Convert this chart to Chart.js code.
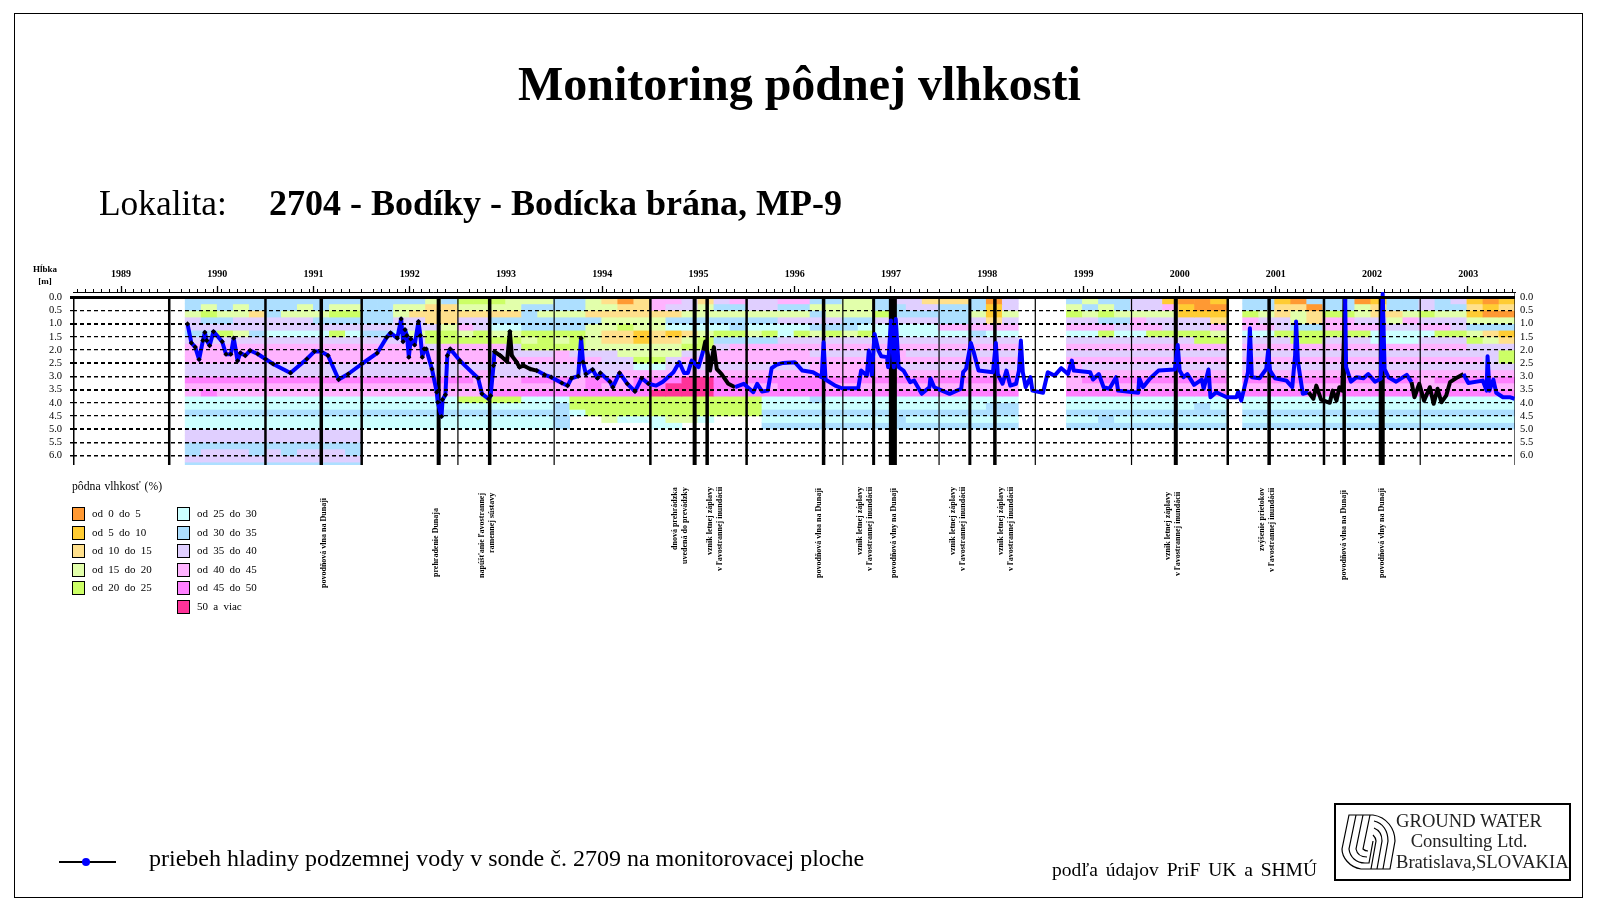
<!DOCTYPE html>
<html>
<head>
<meta charset="utf-8">
<title>Monitoring pôdnej vlhkosti</title>
<script src="https://cdn.jsdelivr.net/npm/chart.js@4/dist/chart.umd.min.js"></script>
<style>
  body { margin: 0; background: #fff; font-family: "Liberation Serif", serif; color: #000; }
  #page { position: relative; width: 1602px; height: 914px; overflow: hidden; }
  #chart { position: absolute; left: 0; top: 0; }
  #frame { position: absolute; left: 14px; top: 13px; width: 1567px; height: 883px; border: 1px solid #000; }
  .txt { position: absolute; white-space: pre; line-height: 1; }
  .swatch { position: absolute; width: 11px; height: 12px; border: 1.5px solid #000; }
  .note { position: absolute; height: 92px; writing-mode: vertical-rl; transform: rotate(180deg);
    text-align: right; font-size: 8px; font-weight: bold; line-height: 10px; white-space: pre; }
  #logo { position: absolute; left: 1334px; top: 803px; width: 233px; height: 74px; border: 2px solid #000; }
  #logo .txt { font-size: 18.6px; color: #222; }
</style>
</head>
<body>
<div id="page">
  <canvas id="chart" width="1602" height="914"></canvas>
  <div id="frame"></div>
  <div class="txt" style="left:518px;top:60px;font-size:48px;font-weight:bold">Monitoring pôdnej vlhkosti</div>
  <div class="txt" style="left:99px;top:186px;font-size:35.4px">Lokalita:</div>
  <div class="txt" style="left:269px;top:185px;font-size:36px;font-weight:bold">2704 - Bodíky - Bodícka brána, MP-9</div>
  <div class="txt" style="left:32px;top:263px;width:26px;text-align:center;font-size:9px;font-weight:bold;line-height:12px">Hĺbka
[m]</div>
  <div class="txt" style="left:72px;top:481px;font-size:11.7px;word-spacing:1px">pôdna vlhkosť (%)</div>
  <div id="legend"></div>
  <div id="notes"></div>
  <div style="position:absolute;left:59px;top:861px;width:57px;height:2px;background:#000"></div>
  <div style="position:absolute;left:82px;top:858px;width:8px;height:8px;border-radius:50%;background:#0000ff"></div>
  <div class="txt" style="left:149px;top:846px;font-size:24px">priebeh hladiny podzemnej vody v sonde č. 2709 na monitorovacej ploche</div>
  <div class="txt" style="left:1052px;top:860px;font-size:19.5px;word-spacing:3px">podľa údajov PriF UK a SHMÚ</div>
  <div id="logo">
    <svg style="position:absolute;left:5px;top:8px" width="56" height="58" viewBox="0 0 56 58" fill="none" stroke="#000" stroke-width="1.2">
      <path d="M8 2 H32 C46 4 54 16 54 28 L49 56 H20 C8 54 1 44 1 36 Z"/>
      <path d="M15 2 L8 36 C9 44 15 50 24 50 L28 50 L32 28"/>
      <path d="M22 2 L15 36 C16 41 20 44 26 44"/>
      <path d="M29 2 L22 36 C24 38 26 38 27 38"/>
      <path d="M33 8 C42 10 47 18 47 28 L42 56"/>
      <path d="M33 15 C38 17 41 22 41 28 L36 56"/>
      <path d="M32 22 C34 24 35 26 35 28 L30 56"/>
    </svg>
    <div class="txt" style="left:58px;width:150px;top:7px;text-align:center">GROUND WATER</div>
    <div class="txt" style="left:58px;width:150px;top:27px;text-align:center">Consulting Ltd.</div>
    <div class="txt" style="left:60px;top:48px">Bratislava,SLOVAKIA</div>
  </div>
</div>
<script>
// moisture classes, same order as the legend
const classLabels = ["od 0 do 5", "od 5 do 10", "od 10 do 15", "od 15 do 20", "od 20 do 25", "od 25 do 30",
  "od 30 do 35", "od 35 do 40", "od 40 do 45", "od 45 do 50", "50 a viac"];
const classColors = ["#ff9933", "#ffcc33", "#ffe08c", "#e2ffab", "#ccff66", "#ccffff",
  "#addfff", "#e0cfff", "#ffb3ff", "#ff80ff", "#ff3399"];

// one string per 0.25 m of depth, one group per year 1989-2003, six readings a year
// digit / A = moisture class, . = not measured
const moistureRows = [
  "...... .66666 666666 666636 444333 663202 887278 778866 336772 22607. ..6366 771001 .66106 660166 767101",
  "...... .63636 663633 663322 333366 663322 877366 776633 336677 66617. ..3636 778100 .66220 663266 766212",
  "...... .34332 633344 663222 222263 332222 223333 333363 334666 66313. ..4343 333111 .43232 443223 433100",
  "...... .76677 777666 667722 776666 666333 366666 667777 667777 66727. ..7766 877772 .87732 887738 777333",
  "...... .77777 777777 777773 875566 663343 355556 555566 655555 88888. ..8887 887778 .88766 888877 887666",
  "...... .66436 555545 665344 343344 443221 212344 345434 345555 55655. ..5545 544443 .55444 444555 544321",
  "...... .77777 777777 777744 444434 343221 223466 667777 777777 77777. ..7777 777744 .77744 777555 777432",
  "...... .88888 888888 888878 888744 443333 334478 888888 888888 88888. ..8888 888888 .88888 888888 888777",
  "...... .88888 888888 888888 887777 877733 337788 888877 777877 77777. ..7777 777777 .77777 777777 777774",
  "...... .88888 888888 888888 888888 888774 478888 888888 888888 88888. ..8888 888888 .88888 888888 888874",
  "...... .77777 777777 777777 777777 777775 577777 777788 888777 77777. ..8777 777777 .77777 777777 777777",
  "...... .77777 777777 777777 887777 777788 888888 888888 888888 88888. ..8888 888888 .88888 888888 888888",
  "...... .99999 999999 999999 988899 989989 99AA99 999999 999999 99999. ..8999 999999 .99999 999999 899999",
  "...... .88888 888888 888888 888888 889889 9AAA99 889998 888888 88888. ..8888 888888 .88888 888888 888888",
  "...... .89888 888888 888888 889999 999999 AAAA99 999999 999999 99999. ..9999 999999 .99999 999999 999999",
  "...... .55555 555555 555555 444455 544444 444444 455565 555555 55555. ..5555 555555 .55555 555555 555555",
  "...... .55555 555555 555555 555555 644444 444444 455555 555555 55566. ..5555 555565 .55555 555555 555555",
  "...... .66666 666666 666666 666666 654444 444444 466666 666666 66666. ..6666 666666 .66666 666666 666666",
  "...... .55555 555555 555555 555555 6..355 5335.. .55555 555655 55555. ..5565 555555 .55555 555555 555555",
  "...... .55555 555555 555555 555555 6..... 55.... .66666 666666 66666. ..6666 666666 .66666 666666 666666",
  "...... .77777 777777 ...... ...... ...... ...... ...... ...... ...... ...... ...... ...... ...... ......",
  "...... .77777 777777 ...... ...... ...... ...... ...... ...... ...... ...... ...... ...... ...... ......",
  "...... .66666 666666 ...... ...... ...... ...... ...... ...... ...... ...... ...... ...... ...... ......",
  "...... .67776 767776 ...... ...... ...... ...... ...... ...... ...... ...... ...... ...... ...... ......",
  "...... .77777 777777 ...... ...... ...... ...... ...... ...... ...... ...... ...... ...... ...... ......",
  "...... .66666 666666 ...... ...... ...... ...... ...... ...... ...... ...... ...... ...... ...... ......",
];

// water level in the probe: year and depth (m)
const levelYears = [
  1990.19, 1990.23, 1990.27, 1990.31, 1990.35, 1990.37, 1990.39, 1990.42, 1990.46, 1990.55, 1990.59, 1990.64, 1990.67, 1990.71, 1990.74, 1990.79, 1990.84, 1990.92,
  1991.00, 1991.08, 1991.26, 1991.43, 1991.51, 1991.58, 1991.65, 1991.76, 1991.86,
  1992.00, 1992.16, 1992.26, 1992.30, 1992.37, 1992.41, 1992.43, 1992.45, 1992.47, 1992.49, 1992.51, 1992.55, 1992.59, 1992.61, 1992.63, 1992.65, 1992.67, 1992.73, 1992.78, 1992.79, 1992.83, 1992.84, 1992.87, 1992.89, 1992.92,
  1993.02, 1993.21, 1993.25, 1993.32, 1993.34, 1993.37, 1993.38, 1993.44, 1993.51, 1993.54, 1993.56, 1993.61, 1993.64, 1993.68, 1993.75, 1993.82, 1993.90, 1993.97,
  1994.08, 1994.14, 1994.18, 1994.25, 1994.28, 1994.30, 1994.33, 1994.40, 1994.45, 1994.48, 1994.58, 1994.61, 1994.68, 1994.76, 1994.84, 1994.91, 1994.98,
  1995.06, 1995.13, 1995.24, 1995.30, 1995.35, 1995.39, 1995.43, 1995.50, 1995.55, 1995.57, 1995.60, 1995.62, 1995.66, 1995.69, 1995.74, 1995.81, 1995.88, 1995.97,
  1996.07, 1996.11, 1996.16, 1996.22, 1996.26, 1996.31, 1996.38, 1996.50, 1996.58, 1996.69, 1996.78, 1996.80, 1996.82, 1996.92, 1996.99,
  1997.16, 1997.19, 1997.25, 1997.27, 1997.30, 1997.33, 1997.37, 1997.40, 1997.46, 1997.47, 1997.50, 1997.53, 1997.55, 1997.58, 1997.63, 1997.70, 1997.74, 1997.82, 1997.90, 1997.91, 1997.95,
  1998.03, 1998.11, 1998.23, 1998.25, 1998.28, 1998.33, 1998.36, 1998.41, 1998.56, 1998.59, 1998.61, 1998.66, 1998.70, 1998.74, 1998.80, 1998.83, 1998.85, 1998.87, 1998.90, 1998.95, 1998.97,
  1999.08, 1999.13, 1999.20, 1999.27, 1999.34, 1999.38, 1999.40, 1999.57, 1999.60, 1999.66, 1999.71, 1999.77, 1999.84, 1999.86,
  2000.07, 2000.08, 2000.12, 2000.19, 2000.28, 2000.45, 2000.48, 2000.50, 2000.54, 2000.58, 2000.65, 2000.73, 2000.75, 2000.80, 2000.82, 2000.88, 2000.99,
  2001.09, 2001.11, 2001.14, 2001.19, 2001.21, 2001.23, 2001.25, 2001.33, 2001.40, 2001.42, 2001.44, 2001.49, 2001.61, 2001.67, 2001.70, 2001.71, 2001.73, 2001.78, 2001.84, 2001.89, 2001.92, 2001.97,
  2002.06, 2002.09, 2002.13, 2002.16, 2002.19, 2002.22, 2002.23, 2002.28, 2002.34, 2002.41, 2002.46, 2002.53, 2002.59, 2002.61, 2002.63, 2002.67, 2002.75, 2002.86, 2002.91, 2002.94, 2002.99,
  2003.04, 2003.10, 2003.14, 2003.18, 2003.22, 2003.27, 2003.31, 2003.39, 2003.45, 2003.50, 2003.65, 2003.69, 2003.70, 2003.72, 2003.76, 2003.79, 2003.86, 2003.93, 2003.98,
];
const levelDepths = [
  1.01, 1.73, 1.89, 2.36, 1.64, 1.33, 1.64, 1.83, 1.30, 1.68, 2.16, 2.16, 1.55, 2.41, 2.11, 2.21, 2.02, 2.15,
  2.34, 2.53, 2.87, 2.34, 2.05, 2.06, 2.21, 3.12, 2.91,
  2.53, 2.12, 1.52, 1.35, 1.55, 0.82, 1.68, 1.23, 1.45, 2.27, 1.58, 1.81, 0.92, 1.45, 2.27, 1.96, 1.96, 2.72, 3.60, 3.98, 4.52, 3.88, 3.70, 2.21, 1.96,
  2.40, 3.07, 3.66, 3.85, 3.73, 2.59, 2.06, 2.21, 2.44, 1.30, 2.21, 2.46, 2.65, 2.59, 2.72, 2.78, 2.94, 3.03,
  3.25, 3.35, 3.07, 2.99, 1.55, 2.46, 2.91, 2.74, 3.07, 2.87, 3.20, 3.41, 2.87, 3.28, 3.57, 3.07, 3.28,
  3.35, 3.20, 2.84, 2.46, 2.87, 2.87, 2.40, 2.65, 2.02, 1.68, 2.21, 2.78, 1.89, 2.72, 2.91, 3.28, 3.41, 3.28,
  3.60, 3.28, 3.57, 3.54, 2.69, 2.56, 2.49, 2.46, 2.78, 2.84, 3.03, 1.71, 3.12, 3.35, 3.45,
  3.45, 2.78, 2.97, 2.02, 2.97, 1.39, 2.02, 2.24, 2.27, 2.65, 0.88, 2.65, 0.82, 2.65, 2.78, 3.22, 3.16, 3.66, 3.41, 3.07, 3.41,
  3.54, 3.66, 3.47, 2.84, 2.72, 1.73, 2.08, 2.78, 2.84, 1.73, 2.91, 3.28, 2.78, 3.35, 3.28, 2.78, 1.64, 2.84, 3.41, 3.03, 3.54,
  3.62, 2.84, 2.97, 2.69, 2.91, 2.40, 2.78, 2.84, 3.12, 2.91, 3.41, 3.47, 3.03, 3.54,
  3.62, 3.07, 3.41, 3.09, 2.78, 2.74, 1.81, 2.78, 3.03, 2.91, 3.32, 3.12, 3.47, 2.74, 3.79, 3.60, 3.79,
  3.79, 3.57, 3.92, 3.16, 2.84, 1.17, 3.03, 3.07, 2.72, 2.02, 2.78, 3.07, 3.16, 3.41, 2.21, 0.92, 2.46, 3.66, 3.60, 3.85, 3.35, 3.88,
  4.00, 3.54, 3.92, 3.41, 3.54, 0.06, 2.65, 3.20, 3.03, 3.07, 2.91, 3.20, 3.09, -0.13, 2.72, 3.03, 3.20, 2.94, 3.22, 3.79, 3.28,
  3.92, 3.41, 4.04, 3.47, 3.98, 3.73, 3.22, 3.03, 2.91, 3.25, 3.16, 3.54, 2.24, 3.54, 3.12, 3.62, 3.79, 3.79, 3.85,
];
// stretches of the record that show as black in the original
const blackSpans = [[1993.38, 1993.82], [1995.55, 1995.88], [2001.80, 2002.20], [2002.90, 2003.42]];
// up to this year the single readings show as black squares on the line
const markersUntil = 1995;

const yearTicks = [1989, 1990, 1991, 1992, 1993, 1994, 1995, 1996, 1997, 1998, 1999, 2000, 2001, 2002, 2003];
const yearLineWidths = [3, 2.5, 2.5, 2.5, 1.2, 1.2, 2.5, 2.5, 1.2, 1.2, 1.2, 1.2, 2.5, 2.5, 1.2];
const eventYears = [1991.58, 1992.80, 1993.33, 1995.46, 1995.59, 1996.80, 1997.32, 1997.52, 1998.32, 1998.58, 2000.46, 2001.43, 2002.21, 2002.60];
const eventWidths = [3.5, 4, 3.5, 4, 3.5, 3.5, 3, 8, 3, 3.5, 4, 3.5, 3.5, 6];
const depthTicks = [0, 0.5, 1, 1.5, 2, 2.5, 3, 3.5, 4, 4.5, 5, 5.5, 6];
const depthLineWidths = [3, 1.2, 2, 1.2, 1.2, 2, 1.5, 2, 1.2, 1.2, 2, 1.5, 1.5];

// text under the event lines: box position and its lines
const noteLefts = [319, 431, 477, 670, 705, 814, 855, 889, 948, 996, 1163, 1257, 1339, 1377];
const noteTops = [498, 508, 493, 487, 487, 488, 487, 488, 487, 487, 492, 488, 490, 488];
const noteTexts = [
  "povodňová vlna na Dunaji",
  "prehradenie Dunaja",
  "napúšťanie ľavostrannej\nramennej sústavy",
  "dnová prehrádzka\nuvedená do prevádzky",
  "vznik letnej záplavy\nv ľavostrannej inundácii",
  "povodňová vlna na Dunaji",
  "vznik letnej záplavy\nv ľavostrannej inundácii",
  "povodňová vlny na Dunaji",
  "vznik letnej záplavy\nv ľavostrannej inundácii",
  "vznik letnej záplavy\nv ľavostrannej inundácii",
  "vznik letnej záplavy\nv ľavostrannej inundácii",
  "zvýšenie prietokov\nv ľavostrannej inundácii",
  "povodňová vlna na Dunaji",
  "povodňová vlny na Dunaji",
];

const rowStep = 0.25;
const xMax = 2003.985;
const yMin = -0.2;
const yMax = 6.36;
const serif = "'Liberation Serif', serif";

function buildLegend() {
  const box = document.getElementById("legend");
  const rowTops = [507, 526, 544, 563, 581, 600];
  let html = "";
  classLabels.forEach((label, i) => {
    const second = i >= 5;
    const top = rowTops[second ? i - 5 : i];
    html += `<div class="swatch" style="left:${second ? 177 : 72}px;top:${top}px;background:${classColors[i]}"></div>`;
    html += `<div class="txt" style="left:${second ? 197 : 92}px;top:${top + 1}px;font-size:11px;word-spacing:2.5px">${label}</div>`;
  });
  box.innerHTML = html;
}

function buildNotes() {
  const box = document.getElementById("notes");
  let html = "";
  noteTexts.forEach((text, i) => {
    html += `<div class="note" style="left:${noteLefts[i]}px;top:${noteTops[i]}px">${text}</div>`;
  });
  box.innerHTML = html;
}

function classColor(ch) {
  if (ch === ".") return "rgba(0,0,0,0)";
  if (ch === "A") return classColors[10];
  return classColors[Number(ch)];
}

function moistureDatasets() {
  return moistureRows.map((row) => {
    const cells = row.replace(/ /g, "").split("");
    return {
      type: "bar",
      stack: "moisture",
      order: 5,
      xAxisID: "xCells",
      yAxisID: "y",
      data: cells.map(() => rowStep),
      backgroundColor: cells.map(classColor),
      borderWidth: 0,
      grouped: false,
      barPercentage: 1,
      categoryPercentage: 1,
    };
  });
}

function verticalLine(year, width, top) {
  return {
    type: "line",
    order: 2,
    xAxisID: "x",
    yAxisID: "y",
    data: [{ x: year, y: top }, { x: year, y: yMax }],
    borderColor: "#000",
    borderWidth: width,
    pointRadius: 0,
  };
}

function isBlack(year) {
  return blackSpans.some((s) => year >= s[0] && year < s[1]);
}

function levelPoints() {
  return levelYears.map((x, i) => ({ x: x, y: levelDepths[i] }));
}

function levelDataset() {
  return {
    type: "line",
    order: 1,
    xAxisID: "x",
    yAxisID: "y",
    data: levelPoints(),
    borderColor: "#0000ff",
    borderWidth: 4,
    borderJoinStyle: "round",
    tension: 0,
    segment: { borderColor: (ctx) => (isBlack(ctx.p0.parsed.x) ? "#000" : "#0000ff") },
    pointRadius: 0,
  };
}

function markerDataset() {
  return {
    type: "line",
    order: 0,
    xAxisID: "x",
    yAxisID: "y",
    data: levelPoints().filter((p) => p.x < markersUntil),
    showLine: false,
    pointStyle: "rectRot",
    pointBackgroundColor: "#000",
    pointBorderColor: "#000",
    pointBorderWidth: 0,
    pointRadius: 2.6,
  };
}

// axis boxes get a fixed size so the plot area lands where it should
function fixedSize(size) {
  return (scale) => {
    scale.paddingLeft = scale.paddingRight = scale.paddingTop = scale.paddingBottom = 0;
    if (scale.isHorizontal()) scale.height = size;
    else scale.width = size;
  };
}

// a bar chart turns offset on for its x scales, these have to stay exact
function topAxis(extra) {
  return Object.assign({
    type: "linear",
    position: "top",
    offset: false,
    min: 1989,
    max: xMax,
    afterFit: fixedSize(0),
    border: { display: false },
  }, extra);
}

buildLegend();
buildNotes();

const cellLabels = moistureRows[0].replace(/ /g, "").split("").map((c, i) => String(i));
const lines = yearTicks.map((y, i) => verticalLine(y, yearLineWidths[i], 0));
lines.push(verticalLine(xMax, 1.2, yMin));
eventYears.forEach((y, i) => lines.push(verticalLine(y, eventWidths[i], 0)));

new Chart(document.getElementById("chart").getContext("2d"), {
  type: "bar",
  data: {
    labels: cellLabels,
    datasets: moistureDatasets().concat(lines, [levelDataset(), markerDataset()]),
  },
  options: {
    responsive: false,
    animation: false,
    events: [],
    layout: { padding: { left: 0, right: 0, top: 0, bottom: 449 } },
    plugins: { legend: { display: false }, title: { display: false }, tooltip: { enabled: false } },
    scales: {
      xCells: { type: "category", display: false, offset: true },
      // monthly ticks along the top, the plain x axis of the water level line
      x: topAxis({
        afterBuildTicks: (s) => {
          const ticks = [];
          yearTicks.forEach((y) => {
            for (let m = 1; m < 12; m++) ticks.push({ value: y + m / 12 });
          });
          s.ticks = ticks;
        },
        grid: { drawOnChartArea: false, tickLength: 3, tickColor: "#000", tickWidth: 1 },
        ticks: { display: false, autoSkip: false },
        border: { display: true, color: "#000", width: 1 },
      }),
      // year boundaries
      xYear: topAxis({
        afterBuildTicks: (s) => { s.ticks = yearTicks.concat([xMax]).map((v) => ({ value: v })); },
        grid: { drawOnChartArea: false, tickLength: 6, tickColor: "#000", tickWidth: 1.3 },
        ticks: { display: false, autoSkip: false },
      }),
      // year names in the middle of each year; this box also holds the space above the plot
      xLabels: topAxis({
        weight: 1,
        afterFit: fixedSize(292),
        afterBuildTicks: (s) => { s.ticks = yearTicks.map((v) => ({ value: v + 0.5 })); },
        grid: { display: false, drawTicks: false },
        ticks: {
          autoSkip: false,
          maxRotation: 0,
          padding: 12,
          color: "#000",
          font: { family: serif, size: 10, weight: "bold" },
          callback: (v) => String(Math.floor(v)),
        },
      }),
      y: {
        type: "linear",
        position: "left",
        reverse: true,
        min: yMin,
        max: yMax,
        afterFit: fixedSize(73),
        afterBuildTicks: (s) => { s.ticks = depthTicks.map((v) => ({ value: v })); },
        // dashes sit on top of the colours and of the line
        grid: {
          z: 1,
          color: "#000",
          lineWidth: (ctx) => depthLineWidths[ctx.index],
          tickLength: 3,
          tickColor: "#000",
          tickWidth: (ctx) => depthLineWidths[ctx.index],
          tickBorderDash: [],
        },
        border: {
          display: false,
          dash: (ctx) => (ctx.tick && ctx.tick.value === 0 ? [] : [4, 3]),
        },
        ticks: {
          autoSkip: false,
          padding: 8,
          color: "#000",
          font: { family: serif, size: 10.5 },
          callback: (v) => v.toFixed(1),
        },
      },
      yRight: {
        type: "linear",
        position: "right",
        reverse: true,
        min: yMin,
        max: yMax,
        afterFit: fixedSize(87),
        afterBuildTicks: (s) => { s.ticks = depthTicks.map((v) => ({ value: v })); },
        grid: { display: false, drawTicks: false },
        border: { display: false },
        ticks: {
          autoSkip: false,
          padding: 5,
          color: "#000",
          font: { family: serif, size: 10.5 },
          callback: (v) => v.toFixed(1),
        },
      },
    },
  },
});
</script>
</body>
</html>
